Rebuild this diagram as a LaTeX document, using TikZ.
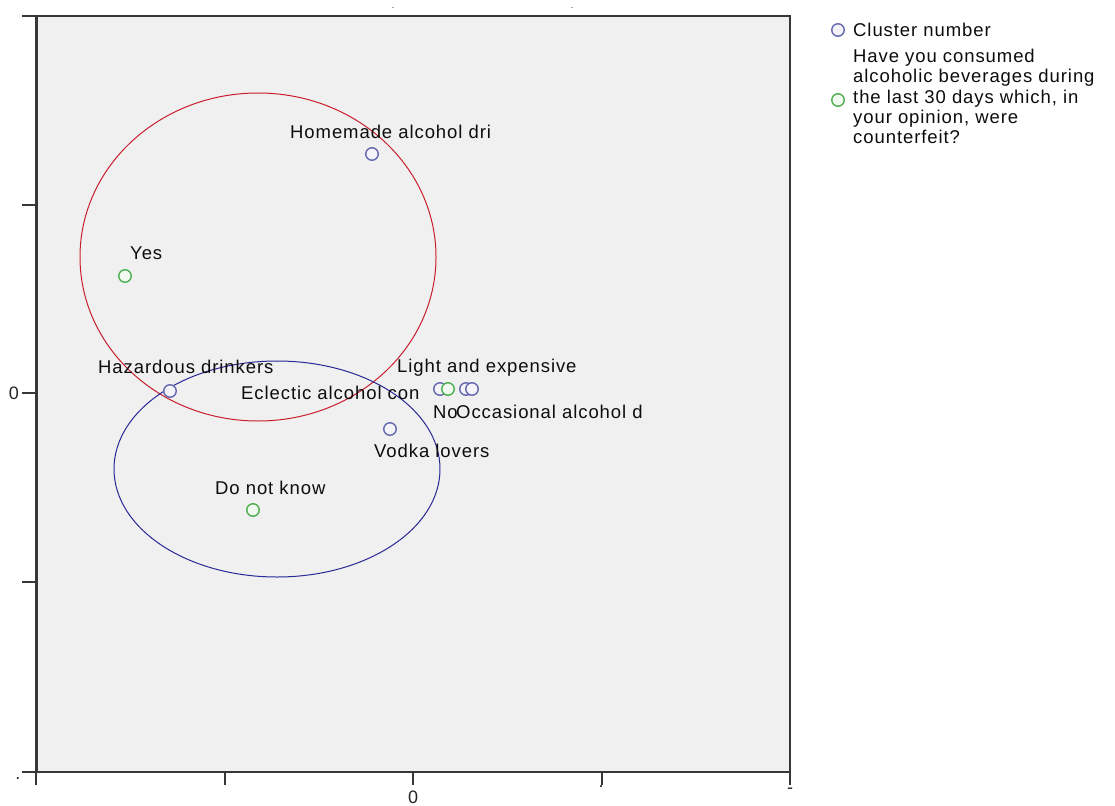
\documentclass[tikz,border=0pt]{standalone}
\usepackage{fontspec}
\newfontfamily\labfont[LetterSpace=5]{Liberation Sans}
\definecolor{plotbg}{RGB}{240,240,240}
\definecolor{framec}{RGB}{55,55,55}
\definecolor{ptblue}{RGB}{100,105,175}
\definecolor{ptgreen}{RGB}{80,175,80}
\definecolor{ellred}{RGB}{200,30,45}
\definecolor{ellblue}{RGB}{40,40,150}
\tikzset{
  lab/.style={anchor=base west, inner sep=0pt, text=black!95, font=\labfont\fontsize{18.5}{20.25}\selectfont},
  ticklab/.style={inner sep=0pt, text=black!85, font=\labfont\fontsize{18}{20}\selectfont},
  topdot/.style={anchor=base, inner sep=0pt, text=black!85, font=\labfont\fontsize{9}{9}\selectfont},
  bluept/.style={circle, draw=ptblue, line width=1.4pt, minimum size=12.5pt, inner sep=0pt, fill=ptblue!8},
  greenpt/.style={circle, draw=ptgreen, line width=1.4pt, minimum size=12.5pt, inner sep=0pt, fill=ptgreen!8},
  frameline/.style={draw=framec, line width=2pt},
  tickline/.style={draw=framec, line width=2pt},
}
\begin{document}
\begin{tikzpicture}[x=1pt,y=-1pt]
\useasboundingbox (0,0) rectangle (1115,805);
\fill[white] (0,0) rectangle (1115,805);
% plot area
\fill[plotbg] (36,16) rectangle (790,772);
\draw[frameline] (36,16) rectangle (790,772);
\draw[framec, line width=3pt] (36,16) -- (36,772);
% left ticks
\foreach \yy in {16,205,393,582,772} \draw[tickline] (22,\yy) -- (36,\yy);
% bottom ticks
\foreach \xx in {36,225,413,602,790} \draw[tickline] (\xx,772) -- (\xx,785);
% tick labels
\node[ticklab] (yl0) at (14,393) {0};
\node[ticklab] (yldot) at (18,779) {.};
\node[ticklab] (xl0) at (413,797) {0};
\node[ticklab] (xldot) at (601,787) {.};
\node[ticklab] (xldash) at (790,791) {-};
\node[topdot] (tl1) at (393,9) {.};
\node[topdot] (tl2) at (572,9) {.};
% ellipses
\draw[ellred, line width=1pt] (258,257) ellipse [x radius=178pt, y radius=164pt];
\draw[ellblue, line width=1pt] (277,469) ellipse [x radius=163pt, y radius=108pt];
% points
\node[bluept] (homemade) at (372,154) {};
\node[greenpt] (yes) at (125,276) {};
\node[bluept] (hazard) at (170,391) {};
\node[bluept] (eclectic) at (440,389) {};
\node[greenpt] (no) at (448,389) {};
\node[bluept] (light) at (466,389) {};
\node[bluept] (occasional) at (472,389) {};
\node[bluept] (vodka) at (390,429) {};
\node[greenpt] (dnk) at (253,510) {};
% labels
\node[lab] (homemadel) at (290,138.5) {Homemade alcohol dri};
\node[lab] (yesl) at (130,259.5) {Yes};
\node[lab] (hazardl) at (98,373.5) {Hazardous drinkers};
\node[lab] (eclecticl) at (241,399.5) {Eclectic alcohol con};
\node[lab] (lightl) at (397,372.5) {Light and expensive};
\node[lab] (nol) at (433,418.5) {No};
\node[lab] (occasionall) at (456,418.5) {Occasional alcohol d};
\node[lab] (vodkal) at (374,457.5) {Vodka lovers};
\node[lab] (dnkl) at (215,494.5) {Do not know};
% legend
\node[bluept] (legblue) at (838,30) {};
\node[lab] (legbluel) at (853,36.5) {Cluster number};
\node[greenpt] (leggreen) at (838,100) {};
\node[lab, anchor=north west, align=left] (leggreenl) at (853,49) {Have you consumed\\alcoholic beverages during\\the last 30 days which, in\\your opinion, were\\counterfeit?};
\end{tikzpicture}
\end{document}
